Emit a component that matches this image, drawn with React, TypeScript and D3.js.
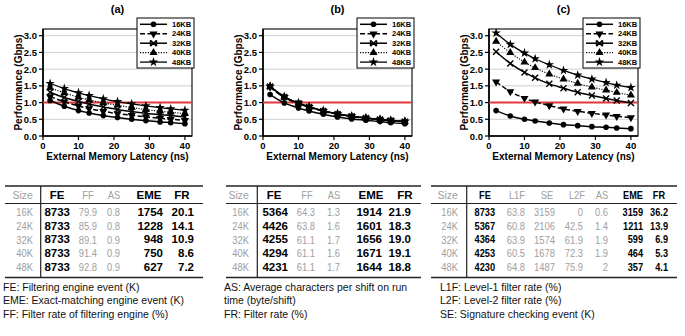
import React from "react";
import * as d3 from "d3";

const W = 685;
const H = 336;

// External memory latency sweep (ns) shared by all three panels
const latencyNs = [2, 6, 10, 13, 17, 21, 25, 29, 33, 36, 40];
const cacheSizes = ["16KB", "24KB", "32KB", "40KB", "48KB"];
const xTicks = [0, 10, 20, 30, 40];
const yTicks = [0, 0.5, 1, 1.5, 2, 2.5, 3];
const panelTitles = ["(a)", "(b)", "(c)"];

// Panel (a) performance (Gbps)
const perfA16 = [1.06, 0.89, 0.76, 0.69, 0.61, 0.55, 0.5, 0.46, 0.42, 0.4, 0.37];
const perfA24 = [1.18, 1.02, 0.9, 0.82, 0.74, 0.67, 0.62, 0.57, 0.53, 0.5, 0.47];
const perfA32 = [1.31, 1.15, 1.03, 0.95, 0.87, 0.79, 0.73, 0.68, 0.64, 0.61, 0.57];
const perfA40 = [1.44, 1.29, 1.16, 1.08, 0.99, 0.92, 0.85, 0.79, 0.74, 0.71, 0.67];
const perfA48 = [1.57, 1.42, 1.29, 1.21, 1.11, 1.03, 0.96, 0.9, 0.85, 0.81, 0.77];

// Panel (b) performance (Gbps)
const perfB16 = [1.24, 0.99, 0.84, 0.75, 0.65, 0.57, 0.51, 0.47, 0.43, 0.4, 0.37];
const perfB24 = [1.46, 1.15, 0.96, 0.86, 0.74, 0.65, 0.58, 0.53, 0.48, 0.46, 0.42];
const perfB32 = [1.48, 1.17, 0.98, 0.87, 0.75, 0.66, 0.59, 0.54, 0.49, 0.46, 0.43];
const perfB40 = [1.48, 1.17, 0.98, 0.87, 0.75, 0.66, 0.59, 0.54, 0.5, 0.47, 0.44];
const perfB48 = [1.49, 1.18, 0.99, 0.88, 0.76, 0.67, 0.6, 0.54, 0.5, 0.47, 0.44];

// Panel (c) performance (Gbps)
const perfC16 = [0.76, 0.6, 0.5, 0.45, 0.39, 0.34, 0.31, 0.28, 0.26, 0.24, 0.22];
const perfC24 = [1.62, 1.33, 1.13, 1.02, 0.91, 0.81, 0.74, 0.68, 0.63, 0.59, 0.55];
const perfC32 = [2.52, 2.17, 1.9, 1.74, 1.56, 1.43, 1.31, 1.21, 1.12, 1.06, 0.99];
const perfC40 = [2.83, 2.49, 2.21, 2.04, 1.85, 1.7, 1.57, 1.46, 1.37, 1.3, 1.22];
const perfC48 = [3.08, 2.74, 2.48, 2.31, 2.13, 1.96, 1.82, 1.7, 1.6, 1.52, 1.45];

// Table rows
const sizeRows = ["16K", "24K", "32K", "40K", "48K"];

const tabA_FE = ["8733", "8733", "8733", "8733", "8733"];
const tabA_FF = ["79.9", "85.9", "89.1", "91.4", "92.8"];
const tabA_AS = ["0.8", "0.8", "0.9", "0.9", "0.9"];
const tabA_EME = ["1754", "1228", "948", "750", "627"];
const tabA_FR = ["20.1", "14.1", "10.9", "8.6", "7.2"];

const tabB_FE = ["5364", "4426", "4255", "4294", "4231"];
const tabB_FF = ["64.3", "63.8", "61.1", "61.1", "61.1"];
const tabB_AS = ["1.3", "1.6", "1.7", "1.6", "1.7"];
const tabB_EME = ["1914", "1601", "1656", "1671", "1644"];
const tabB_FR = ["21.9", "18.3", "19.0", "19.1", "18.8"];

const tabC_FE = ["8733", "5367", "4364", "4253", "4230"];
const tabC_L1F = ["63.8", "60.8", "63.9", "60.5", "64.8"];
const tabC_SE = ["3159", "2106", "1574", "1678", "1487"];
const tabC_L2F = ["0", "42.5", "61.9", "72.3", "75.9"];
const tabC_AS = ["0.6", "1.4", "1.9", "1.9", "2"];
const tabC_EME = ["3159", "1211", "599", "464", "357"];
const tabC_FR = ["36.2", "13.9", "6.9", "5.3", "4.1"];

const notesA = [
  "FE: Filtering engine event (K)",
  "EME: Exact-matching engine event (K)",
  "FF: Filter rate of filtering engine (%)",
];
const notesB = [
  "AS: Average characters per shift on run",
  "time (byte/shift)",
  "FR: Filter rate (%)",
];
const notesC = [
  "L1F: Level-1 filter rate (%)",
  "L2F: Level-2 filter rate (%)",
  "SE: Signature checking event (K)",
];

const FONT = "'Liberation Sans', Arial, Helvetica, sans-serif";
const GRAY = "#a0a0a0";

// Plot geometry
const PLOT_W = 149;
const PLOT_TOP = 29;
const PLOT_BOTTOM = 136;

const lineStyles = [
  { dash: undefined, width: 1.5 },
  { dash: "5,2.5", width: 1.5 },
  { dash: undefined, width: 1.5 },
  { dash: "1.2,1.4", width: 1.1 },
  { dash: undefined, width: 1.3 },
];

function Marker({ kind, x, y, legend }: { kind: number; x: number; y: number; legend?: boolean }) {
  if (kind === 0) return <circle cx={x} cy={y} r={2.8} fill="#000" />;
  if (kind === 1)
    return (
      <path
        d={d3.symbol(d3.symbolTriangle, 28)() as string}
        transform={`translate(${x},${y}) rotate(180)`}
        fill="#000"
      />
    );
  if (kind === 2)
    return (
      <path
        d={
          legend
            ? "M-3,-3L3,3M-3,3L3,-3M-3,-3L-3,3M3,-3L3,3"
            : "M-3,-3L3,3M-3,3L3,-3"
        }
        transform={`translate(${x},${y})`}
        stroke="#000"
        strokeWidth={1.4}
        fill="none"
      />
    );
  if (kind === 3)
    return (
      <path
        d={d3.symbol(d3.symbolTriangle, 28)() as string}
        transform={`translate(${x},${y})`}
        fill="#000"
      />
    );
  return (
    <path
      d={d3.symbol(d3.symbolStar, 28)() as string}
      transform={`translate(${x},${y})`}
      fill="#000"
    />
  );
}

function Chart({ title, left, series }: { title: string; left: number; series: number[][] }) {
  const right = left + PLOT_W;
  const x = d3.scaleLinear().domain([0, 42]).range([left, right]);
  const y = d3.scaleLinear().domain([0, 3.2]).range([PLOT_BOTTOM, PLOT_TOP]);
  const line = d3
    .line<number>()
    .x((_, i) => x(latencyNs[i]))
    .y((d) => y(d))
    .curve(d3.curveMonotoneX);

  const legX = right - 55;
  const legY = 18;
  const rowY = (i: number) => legY + 6.3 + i * 9.45;

  return (
    <g>
      <text
        x={(left + right) / 2}
        y={9}
        textAnchor="middle"
        dominantBaseline="central"
        fontFamily={FONT}
        fontWeight="bold"
        fontSize={11}
      >
        {title}
      </text>

      {/* grid */}
      {yTicks
        .filter((t) => t > 0)
        .map((t) => (
          <line key={t} x1={left} x2={right} y1={y(t)} y2={y(t)} stroke="#cfcfcf" strokeWidth={1} />
        ))}

      {/* frame */}
      <rect x={left} y={PLOT_TOP} width={PLOT_W} height={PLOT_BOTTOM - PLOT_TOP} fill="none" stroke="#000" strokeWidth={1.1} />
      <line x1={left} x2={left} y1={PLOT_TOP} y2={PLOT_BOTTOM} stroke="#000" strokeWidth={1.6} />
      <line x1={left} x2={right} y1={PLOT_BOTTOM} y2={PLOT_BOTTOM} stroke="#000" strokeWidth={1.6} />

      {/* y axis */}
      {yTicks.map((t) => (
        <g key={t}>
          <line x1={left - 4} x2={left} y1={y(t)} y2={y(t)} stroke="#000" strokeWidth={1.2} />
          <text
            x={left - 6}
            y={y(t)}
            textAnchor="end"
            dominantBaseline="central"
            fontFamily={FONT}
            fontWeight="bold"
            fontSize={9.5}
          >
            {t.toFixed(1)}
          </text>
        </g>
      ))}
      {/* x axis */}
      {xTicks.map((t) => (
        <g key={t}>
          <line x1={x(t)} x2={x(t)} y1={PLOT_BOTTOM} y2={PLOT_BOTTOM + 4} stroke="#000" strokeWidth={1.2} />
          <text
            x={x(t)}
            y={PLOT_BOTTOM + 9.5}
            textAnchor="middle"
            dominantBaseline="central"
            fontFamily={FONT}
            fontWeight="bold"
            fontSize={9.5}
          >
            {t}
          </text>
        </g>
      ))}
      <text
        x={(left + right) / 2}
        y={156.5}
        textAnchor="middle"
        dominantBaseline="central"
        fontFamily={FONT}
        fontWeight="bold"
        fontSize={10}
      >
        External Memory Latency (ns)
      </text>
      <text
        transform={`translate(${left - 25},${(PLOT_TOP + PLOT_BOTTOM) / 2}) rotate(-90)`}
        textAnchor="middle"
        dominantBaseline="central"
        fontFamily={FONT}
        fontWeight="bold"
        fontSize={10}
      >
        Performance (Gbps)
      </text>

      {/* 1 Gbps reference */}
      <line x1={left} x2={right} y1={y(1)} y2={y(1)} stroke="#e2383c" strokeWidth={2} />

      {/* series */}
      {series.map((vals, k) => (
        <path
          key={k}
          d={line(vals) as string}
          fill="none"
          stroke="#000"
          strokeWidth={lineStyles[k].width}
          strokeDasharray={lineStyles[k].dash}
        />
      ))}
      {series.map((vals, k) =>
        vals.map((v, i) => <Marker key={`${k}-${i}`} kind={k} x={x(latencyNs[i])} y={y(v)} />)
      )}

      {/* legend */}
      <rect x={legX} y={legY} width={57} height={50} fill="#fff" stroke="#000" strokeWidth={1} />
      {cacheSizes.map((name, k) => (
        <g key={name}>
          <line
            x1={legX + 3}
            x2={legX + 30}
            y1={rowY(k)}
            y2={rowY(k)}
            stroke="#000"
            strokeWidth={lineStyles[k].width}
            strokeDasharray={lineStyles[k].dash}
          />
          <Marker kind={k} x={legX + 16.5} y={rowY(k)} legend />
          <text
            x={legX + 35}
            y={rowY(k)}
            dominantBaseline="central"
            fontFamily={FONT}
            fontWeight="bold"
            fontSize={7.5}
          >
            {name}
          </text>
        </g>
      ))}
    </g>
  );
}

type Col = { head: string; values: string[]; strong: boolean; hx: number; rx: number };

const TAB_TOP = 186;
const TAB_HEAD = 195;
const TAB_SEP = 203.5;
const ROW0 = 212;
const ROW_STEP = 13.7;
const TAB_BOTTOM = 277.5;

// Horizontally condensed cell text
function Cell({
  x,
  y,
  anchor,
  strong,
  squeeze,
  children,
}: {
  x: number;
  y: number;
  anchor: "start" | "middle" | "end";
  strong: boolean;
  squeeze: number;
  children: React.ReactNode;
}) {
  return (
    <text
      transform={`translate(${x},${y}) scale(${squeeze},1)`}
      textAnchor={anchor}
      dominantBaseline="central"
      fontFamily={FONT}
      fontWeight={strong ? "bold" : "normal"}
      fontSize={11.5}
      fill={strong ? "#000" : GRAY}
    >
      {children}
    </text>
  );
}

function Table({
  x1,
  x2,
  divider,
  cols,
  notes,
  notesX,
  condensed,
}: {
  x1: number;
  x2: number;
  divider: number;
  cols: Col[];
  notes: string[];
  notesX: number;
  condensed?: boolean;
}) {
  const sq = (strong: boolean) => (strong ? (condensed ? 0.8 : 1) : 0.82);
  return (
    <g>
      <line x1={x1} x2={x2} y1={TAB_TOP} y2={TAB_TOP} stroke="#222" strokeWidth={1.4} />
      <line x1={x1} x2={x2} y1={TAB_SEP} y2={TAB_SEP} stroke="#222" strokeWidth={1} />
      <line x1={x1} x2={x2} y1={TAB_BOTTOM} y2={TAB_BOTTOM} stroke="#222" strokeWidth={1.4} />
      <line x1={divider} x2={divider} y1={TAB_TOP} y2={TAB_BOTTOM} stroke="#222" strokeWidth={1.2} />
      {cols.map((c) => (
        <g key={c.head}>
          <Cell
            x={c.hx}
            y={TAB_HEAD}
            anchor={c.head === "Size" ? "end" : "middle"}
            strong={c.strong}
            squeeze={c.head === "Size" ? 0.92 : sq(c.strong)}
          >
            {c.head}
          </Cell>
          {c.values.map((v, i) => (
            <Cell
              key={i}
              x={c.rx}
              y={ROW0 + i * ROW_STEP}
              anchor="end"
              strong={c.strong}
              squeeze={sq(c.strong)}
            >
              {v}
            </Cell>
          ))}
        </g>
      ))}
      {notes.map((n, i) => (
        <text
          key={i}
          x={notesX}
          y={286.5 + i * 13.6}
          dominantBaseline="central"
          fontFamily={FONT}
          fontSize={10.5}
          fill="#111"
        >
          {n}
        </text>
      ))}
    </g>
  );
}

export default function App() {
  const panels = [
    { left: 43, series: [perfA16, perfA24, perfA32, perfA40, perfA48] },
    { left: 263, series: [perfB16, perfB24, perfB32, perfB40, perfB48] },
    { left: 489, series: [perfC16, perfC24, perfC32, perfC40, perfC48] },
  ];

  const colsA: Col[] = [
    { head: "Size", values: sizeRows, strong: false, hx: 33, rx: 33 },
    { head: "FE", values: tabA_FE, strong: true, hx: 57, rx: 70 },
    { head: "FF", values: tabA_FF, strong: false, hx: 88, rx: 97 },
    { head: "AS", values: tabA_AS, strong: false, hx: 114, rx: 120 },
    { head: "EME", values: tabA_EME, strong: true, hx: 149, rx: 163 },
    { head: "FR", values: tabA_FR, strong: true, hx: 182, rx: 194 },
  ];
  const colsB: Col[] = [
    { head: "Size", values: sizeRows, strong: false, hx: 249, rx: 249 },
    { head: "FE", values: tabB_FE, strong: true, hx: 274, rx: 288 },
    { head: "FF", values: tabB_FF, strong: false, hx: 307, rx: 315 },
    { head: "AS", values: tabB_AS, strong: false, hx: 334, rx: 340 },
    { head: "EME", values: tabB_EME, strong: true, hx: 371, rx: 382 },
    { head: "FR", values: tabB_FR, strong: true, hx: 405, rx: 411 },
  ];
  const colsC: Col[] = [
    { head: "Size", values: sizeRows, strong: false, hx: 458, rx: 458 },
    { head: "FE", values: tabC_FE, strong: true, hx: 485, rx: 495 },
    { head: "L1F", values: tabC_L1F, strong: false, hx: 517, rx: 525 },
    { head: "SE", values: tabC_SE, strong: false, hx: 547, rx: 555 },
    { head: "L2F", values: tabC_L2F, strong: false, hx: 577, rx: 583 },
    { head: "AS", values: tabC_AS, strong: false, hx: 602, rx: 608 },
    { head: "EME", values: tabC_EME, strong: true, hx: 633, rx: 643 },
    { head: "FR", values: tabC_FR, strong: true, hx: 659, rx: 668 },
  ];

  return (
    <svg
      width={W}
      height={H}
      viewBox={`0 0 ${W} ${H}`}
      style={{ position: "absolute", left: 0, top: 0, display: "block", background: "#fff" }}
    >
      <rect width={W} height={H} fill="#fff" />
      {panels.map((p, i) => (
        <Chart key={i} title={panelTitles[i]} left={p.left} series={p.series} />
      ))}
      <Table x1={5} x2={203} divider={40.7} cols={colsA} notes={notesA} notesX={3} />
      <Table x1={226} x2={421} divider={257.3} cols={colsB} notes={notesB} notesX={224} />
      <Table x1={431} x2={677} divider={466.7} cols={colsC} notes={notesC} notesX={440} condensed />
    </svg>
  );
}
